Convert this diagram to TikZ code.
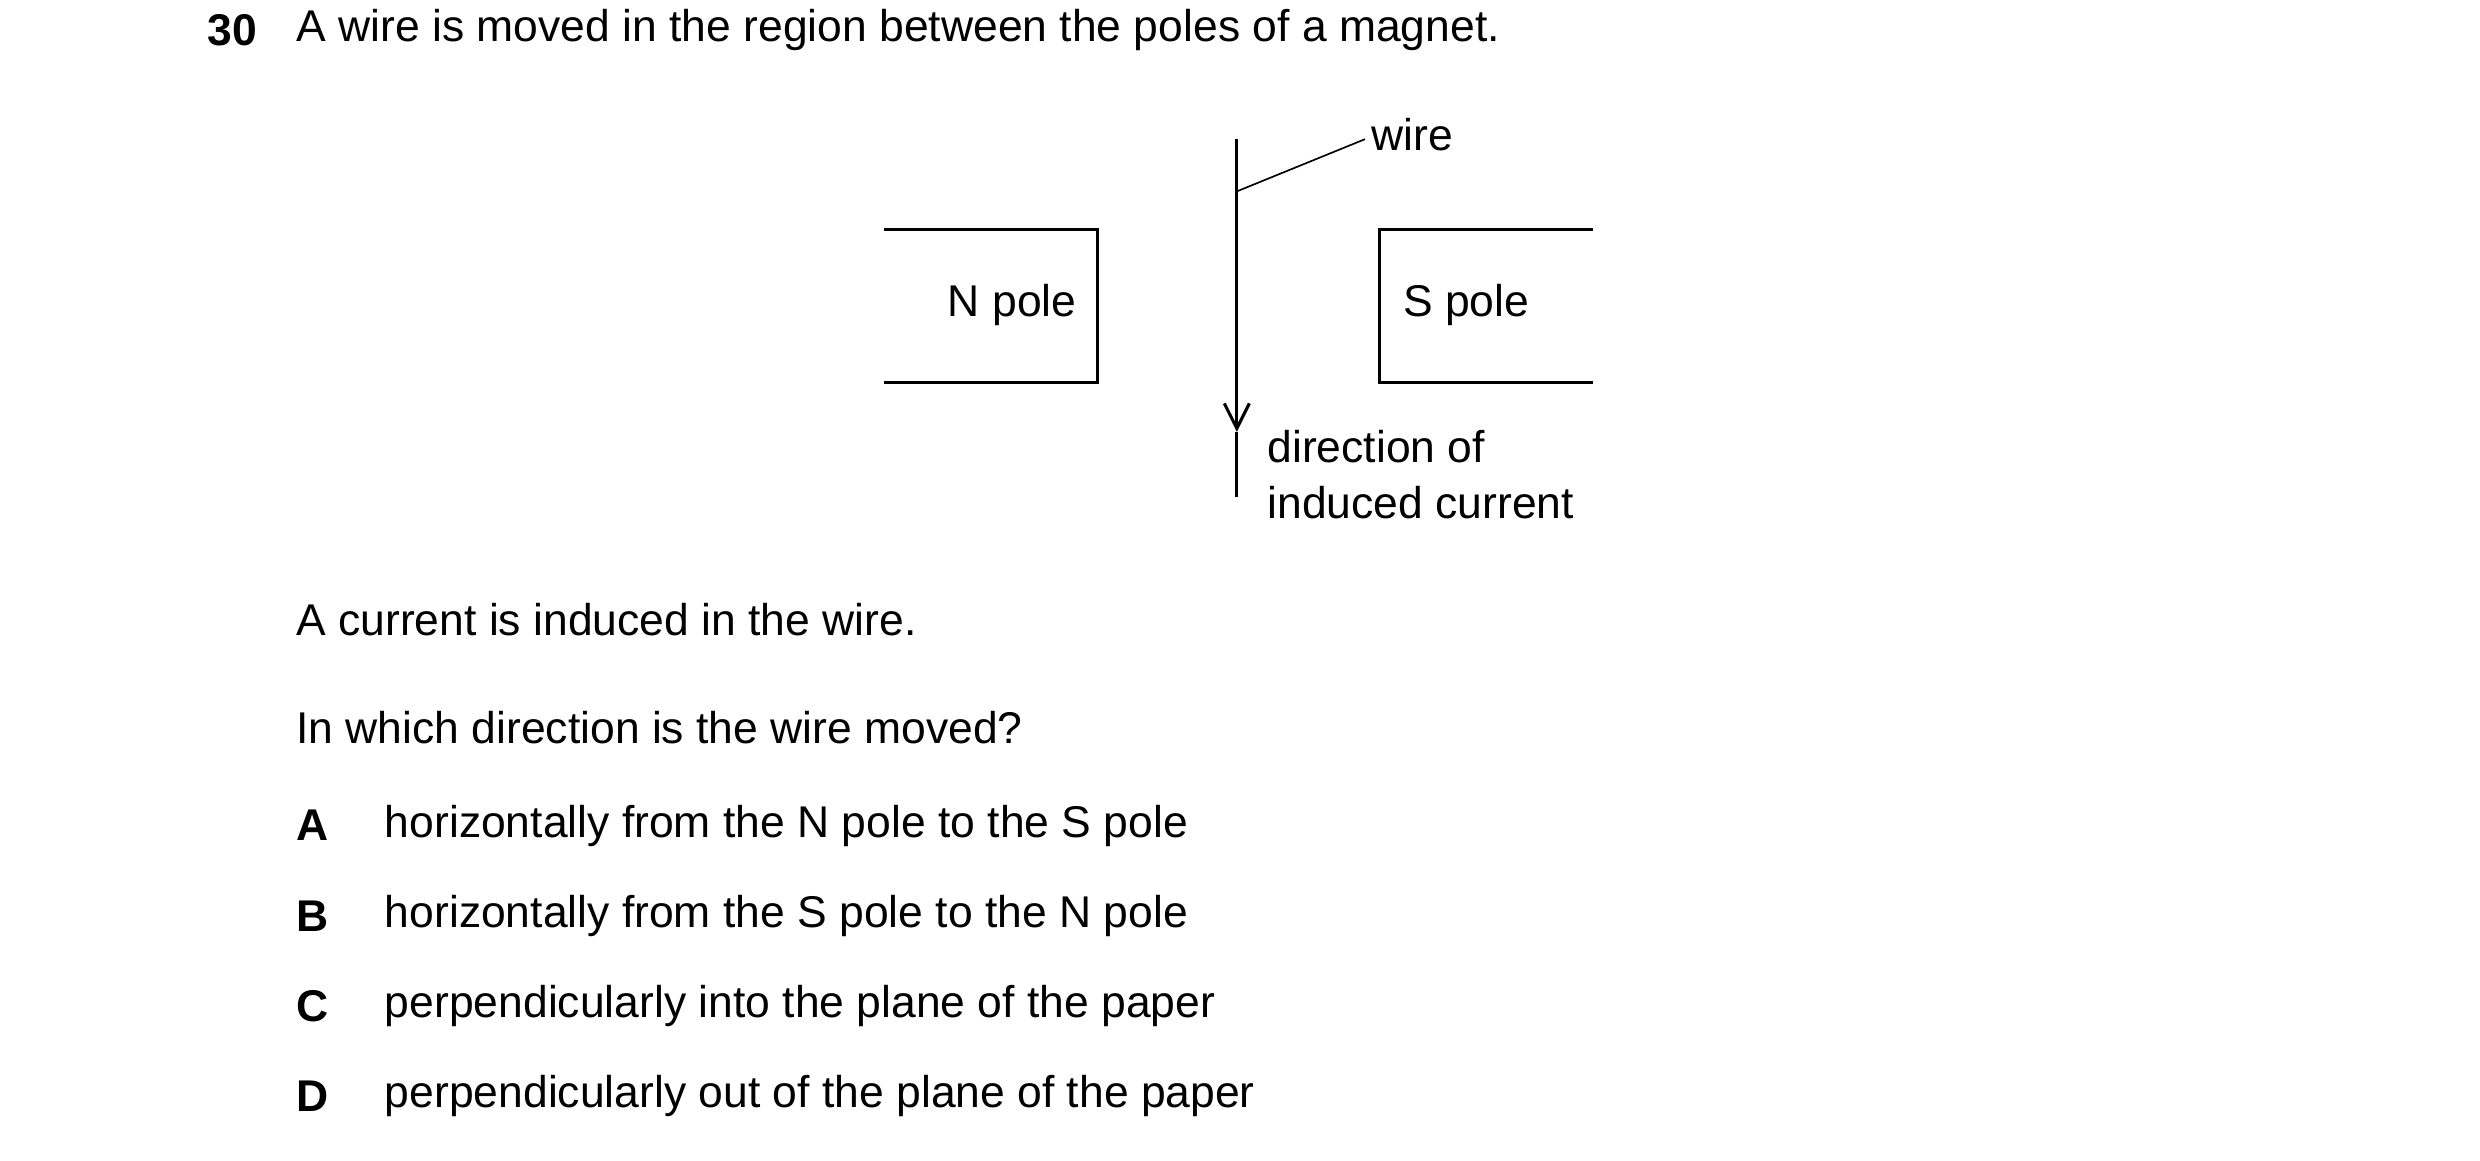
\documentclass[tikz,border=0pt]{standalone}
\usepackage{fontspec}
\setmainfont{Liberation Sans}
\usetikzlibrary{arrows.meta}
\begin{document}
\begin{tikzpicture}[x=0.02cm,y=-0.02cm,
  txt/.style={anchor=west,inner sep=0pt,font=\fontsize{16}{20}\selectfont},
  ln/.style={line width=1.1pt},
  thin/.style={line width=0.6pt}]
\useasboundingbox (0,0) rectangle (1568,734);
\node[txt,font=\fontsize{16}{20}\selectfont\bfseries] (q) at (131,19) {30};
\node[txt] (t1) at (187,19) {A wire is moved in the region between the poles of a magnet.};
% N pole
\coordinate (n1) at (559,145); \coordinate (n2) at (694,145);
\coordinate (n3) at (694,242); \coordinate (n4) at (559,242);
\draw[ln] (n1) -- (n2) -- (n3) -- (n4);
\node[txt,anchor=center] (N) at (640,193) {N pole};
% S pole
\coordinate (s1) at (1007,145); \coordinate (s2) at (872,145);
\coordinate (s3) at (872,242); \coordinate (s4) at (1007,242);
\draw[ln] (s1) -- (s2) -- (s3) -- (s4);
\node[txt,anchor=center] (S) at (927,193) {S pole};
% wire
\coordinate (wt) at (782,88); \coordinate (wm) at (782,273); \coordinate (wb) at (782,314);
\draw[ln,-{Straight Barb[length=9pt,width=9pt]}] (wt) -- (wm);
\draw[ln] (wm) -- (wb);
\coordinate (wl) at (782,121);
\node[txt] (wire) at (867,85) {wire};
\draw[thin] (wl) -- (863,88);
\node[txt,align=left,anchor=north west] (dir) at (801,272) {direction of\\induced current};
\node[txt] (t2) at (187,392) {A current is induced in the wire.};
\node[txt] (t3) at (187,460) {In which direction is the wire moved?};
\foreach \l/\t/\y in {A/horizontally from the N pole to the S pole/522,
  B/horizontally from the S pole to the N pole/579,
  C/perpendicularly into the plane of the paper/636,
  D/perpendicularly out of the plane of the paper/693}{
  \node[txt,font=\fontsize{16}{20}\selectfont\bfseries] (l\l) at (187,\y) {\l};
  \node[txt] (o\l) at (243,\y) {\t};
}
\end{tikzpicture}
\end{document}
